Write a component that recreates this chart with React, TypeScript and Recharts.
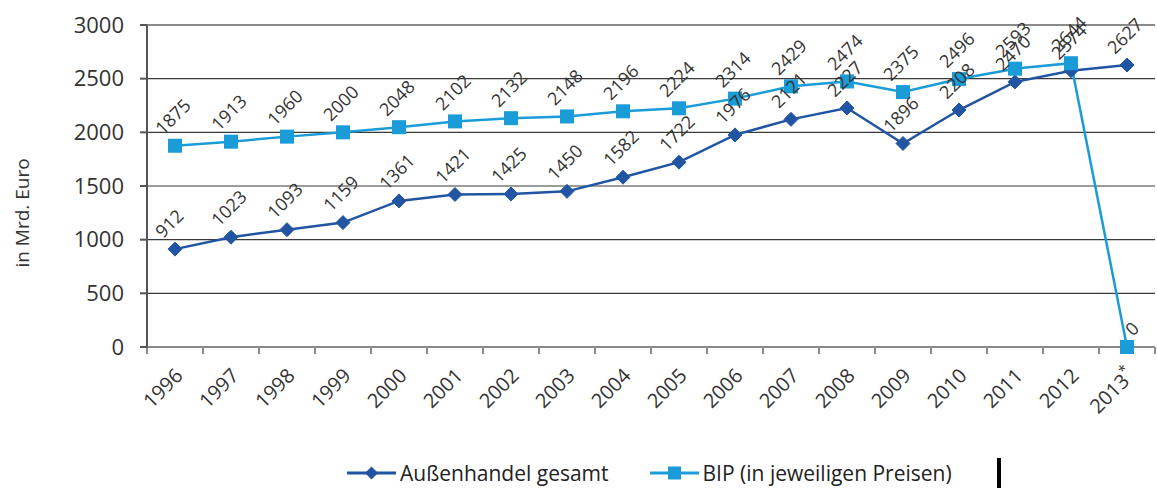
import { LineChart, Line, XAxis, YAxis, CartesianGrid, LabelList, ReferenceLine } from 'recharts'

const years = ['1996', '1997', '1998', '1999', '2000', '2001', '2002', '2003', '2004', '2005', '2006', '2007', '2008', '2009', '2010', '2011', '2012', '2013*']
const aussenhandel = [912, 1023, 1093, 1159, 1361, 1421, 1425, 1450, 1582, 1722, 1976, 2121, 2227, 1896, 2208, 2470, 2574, 2627]
const bip = [1875, 1913, 1960, 2000, 2048, 2102, 2132, 2148, 2196, 2224, 2314, 2429, 2474, 2375, 2496, 2593, 2644, 0]
const yTicks = [0, 500, 1000, 1500, 2000, 2500, 3000]
const seriesNames = ['Außenhandel gesamt', 'BIP (in jeweiligen Preisen)']
const yTitle = 'in Mrd. Euro'

const DARK = '#2155a3'
const LIGHT = '#1a9cd8'
const FONT = '"Open Sans", sans-serif'

// slot index + 0.5 puts each point in the middle of its category band
const data = years.map((year, i) => ({ slot: i + 0.5, year, a: aussenhandel[i], b: bip[i] }))
const slotTicks = years.map((_, i) => i).concat(years.length)

const HALF_BAND = 28

function YearTick({ x, y, payload }: any) {
  const label = years[payload.value]
  if (!label) return null
  const star = label.endsWith('*')
  const tx = x + HALF_BAND + 9
  const ty = y + 21
  return (
    <text transform={`translate(${tx},${ty}) rotate(-45)`} textAnchor="end" fontSize={20} fontFamily={FONT} fill="#333">
      {star ? label.slice(0, -1) : label}
      {star && <tspan fontSize={14} dy={-9}>*</tspan>}
    </text>
  )
}

function Diamond({ cx, cy }: any) {
  if (cx == null || cy == null) return null
  const r = 7
  return <path d={`M${cx},${cy - r}L${cx + r},${cy}L${cx},${cy + r}L${cx - r},${cy}Z`} fill={DARK} stroke={DARK} strokeWidth={1} />
}

function Square({ cx, cy }: any) {
  if (cx == null || cy == null) return null
  const s = 14
  return <rect x={cx - s / 2} y={cy - s / 2} width={s} height={s} fill={LIGHT} />
}

function RotLabel({ x, y, value }: any) {
  // a zero sits on the axis, so its label moves to the right of the marker
  const dx = value === 0 ? 6 : -12
  return (
    <text transform={`translate(${x + dx},${y - 10}) rotate(-45)`} textAnchor="start" fontSize={18} fontFamily={FONT} fill="#333">
      {value}
    </text>
  )
}

function YTitle({ viewBox }: any) {
  const cy = viewBox.y + viewBox.height / 2 + 27
  return (
    <text transform={`translate(29,${cy}) rotate(-90)`} textAnchor="middle" fontSize={19} fontFamily={FONT} fill="#333">
      {yTitle}
    </text>
  )
}

function LegendIcon({ kind, color }: { kind: 'diamond' | 'square'; color: string }) {
  return (
    <svg width={49} height={16} style={{ display: 'block' }}>
      <line x1={0} y1={8} x2={49} y2={8} stroke={color} strokeWidth={3} />
      {kind === 'diamond' ? (
        <path d="M24.5,1.5L31,8L24.5,14.5L18,8Z" fill={color} />
      ) : (
        <rect x={18} y={1.5} width={13} height={13} fill={color} />
      )}
    </svg>
  )
}

export default function App() {
  return (
    <div style={{ position: 'absolute', left: 0, top: 0, width: 1157, height: 488, background: '#fff' }}>
      <LineChart width={1157} height={488} data={data} margin={{ top: 25, right: 2, left: 0, bottom: 81 }}>
        <CartesianGrid vertical={false} stroke="#3a3a3a" strokeWidth={1.2} />
        <XAxis
          dataKey="slot"
          type="number"
          domain={[0, years.length]}
          ticks={slotTicks}
          interval={0}
          height={60}
          tick={<YearTick />}
          tickSize={7}
          stroke="#8a8a8a"
          strokeWidth={2}
        />
        <YAxis
          domain={[0, 3000]}
          ticks={yTicks}
          width={147}
          tickSize={7}
          tickMargin={16}
          stroke="#555"
          strokeWidth={2}
          tick={{ fontSize: 22, fontFamily: FONT, fill: '#333' }}
          label={<YTitle />}
        />
        <YAxis yAxisId="right" orientation="right" width={0} tick={false} stroke="#8a8a8a" strokeWidth={2} />
        <ReferenceLine y={3000} stroke="#8a8a8a" strokeWidth={2} />
        <Line
          dataKey="a"
          name={seriesNames[0]}
          stroke={DARK}
          strokeWidth={2.5}
          dot={<Diamond />}
          isAnimationActive={false}
        >
          <LabelList dataKey="a" content={<RotLabel />} />
        </Line>
        <Line
          dataKey="b"
          name={seriesNames[1]}
          stroke={LIGHT}
          strokeWidth={2.5}
          dot={<Square />}
          isAnimationActive={false}
        >
          <LabelList dataKey="b" content={<RotLabel />} />
        </Line>
      </LineChart>
      <div style={{ position: 'absolute', top: 458, left: 347, height: 30, display: 'flex', alignItems: 'center', fontFamily: FONT, fontSize: 21, color: '#222', whiteSpace: 'nowrap' }}>
        <LegendIcon kind="diamond" color={DARK} />
        <span style={{ marginLeft: 4, marginRight: 41 }}>{seriesNames[0]}</span>
        <LegendIcon kind="square" color={LIGHT} />
        <span style={{ marginLeft: 4 }}>{seriesNames[1]}</span>
      </div>
      <div style={{ position: 'absolute', left: 997, top: 458, width: 4, height: 30, background: '#000' }} />
    </div>
  )
}
